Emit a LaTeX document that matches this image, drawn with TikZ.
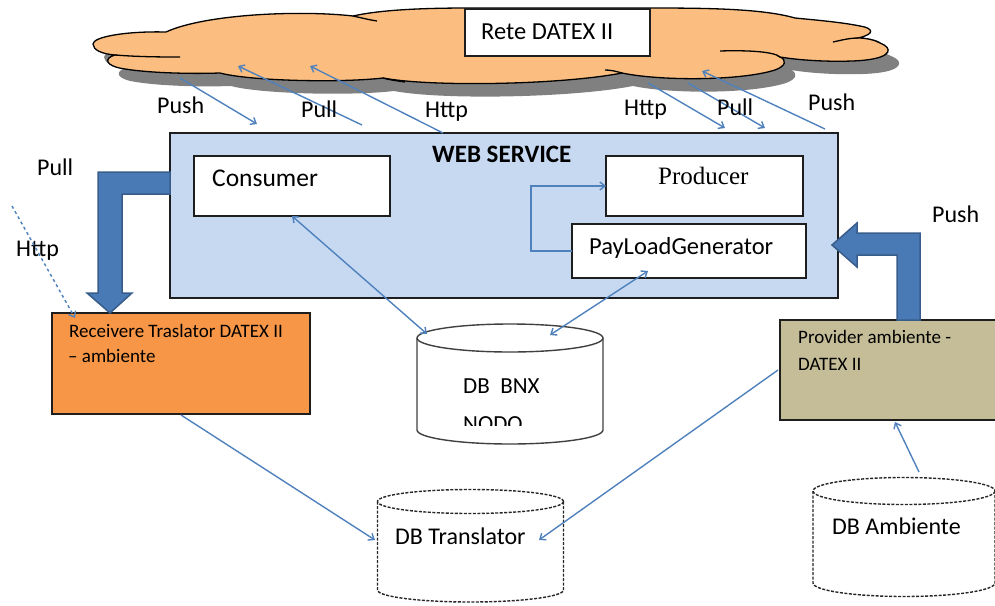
\documentclass[tikz,border=0pt]{standalone}
\usepackage{fontspec}
\setmainfont{Carlito}
\newfontfamily\prodfont{Liberation Serif}
\usetikzlibrary{arrows.meta,calc}

\definecolor{cloudfill}{RGB}{251,190,128}
\definecolor{cloudshadow}{RGB}{128,128,128}
\definecolor{wsfill}{RGB}{198,217,241}
\definecolor{recvfill}{RGB}{247,150,70}
\definecolor{provfill}{RGB}{196,189,151}
\definecolor{linkblue}{RGB}{79,129,189}
\definecolor{blockblue}{RGB}{74,122,182}
\definecolor{blockedge}{RGB}{56,93,138}
\definecolor{edge}{RGB}{30,30,30}

% cylinder: centre x, half width, y of top ellipse, y of bottom arc, ellipse half height, style
\newcommand\dbcylinder[6]{%
  \path[#6, fill=white] ({#1-#2},#3) -- ({#1-#2},#4)
    .. controls ({#1-#2},{#4+0.5523*#5}) and ({#1-0.5523*#2},{#4+#5}) .. (#1,{#4+#5})
    .. controls ({#1+0.5523*#2},{#4+#5}) and ({#1+#2},{#4+0.5523*#5}) .. ({#1+#2},#4)
    -- ({#1+#2},#3);
  \path[#6, fill=white] (#1,#3) ellipse[x radius=#2, y radius=#5];
}

\begin{document}
\begin{tikzpicture}[x=1pt,y=-1pt,
  box/.style={draw=edge, line width=1.5pt, inner sep=0pt, outer sep=0pt},
  txt/.style={inner sep=0pt, anchor=base west, font=\fontsize{24}{28}\selectfont},
  small/.style={inner sep=0pt, anchor=base west, font=\fontsize{19}{22}\selectfont},
  link/.style={draw=linkblue, line width=1.4pt, -{Straight Barb[length=5pt,width=8pt]}},
  twoway/.style={link, {Straight Barb[length=5pt,width=8pt]}-{Straight Barb[length=5pt,width=8pt]}},
  block/.style={fill=blockblue, draw=blockedge, line width=1.5pt, line join=miter},
  cyl/.style={draw=black!75, line width=1.4pt},
  dcyl/.style={draw=black!85, line width=1.4pt, dash pattern=on 3pt off 1.5pt}
]
\useasboundingbox (0,0) rectangle (995,605);
\clip (0,0) rectangle (995,605);

% ---------- network cloud ----------
\def\cloudpath{(353,16) .. controls (300,10) and (205,14) .. (166,32)
  .. controls (125,31) and (93,37) .. (93,44)
  .. controls (93,50) and (102,54) .. (115,55)
  .. controls (104,58) and (104,66) .. (125,69)
  .. controls (150,73) and (190,74) .. (220,73)
  .. controls (250,81) and (340,83) .. (383,78)
  .. controls (430,87) and (560,85) .. (622,73)
  .. controls (660,81) and (740,81) .. (775,70)
  .. controls (786,66) and (787,60) .. (780,57)
  .. controls (810,62) and (850,62) .. (866,60)
  .. controls (892,57) and (893,48) .. (880,43)
  .. controls (875,40) and (866,38) .. (858,38)
  .. controls (876,34) and (873,28) .. (860,26)
  .. controls (840,22) and (815,20) .. (795,18)
  .. controls (760,8) and (700,8) .. (640,8)
  -- (470,8) .. controls (420,8) and (380,10) .. (353,16) -- cycle}
\fill[cloudshadow, shift={(11,13)}] \cloudpath;
\filldraw[fill=cloudfill, draw=black, line width=1.3pt] \cloudpath;
\begin{scope}[draw=black, line width=1.3pt]
  \draw (353,16) .. controls (362,18) and (370,20) .. (377,21);
  \draw (115,55) .. controls (140,57) and (165,57) .. (180,57);
  \draw (383,78) .. controls (390,80) and (398,81) .. (405,82);
  \draw (622,73) .. controls (615,71) and (610,70) .. (605,70);
  \draw (720,51) .. controls (750,50) and (775,52) .. (780,57);
  \draw (833,42) .. controls (842,40) and (850,38) .. (858,38);
\end{scope}
\node[box, fill=white, minimum width=185pt, minimum height=47pt] (rete) at (557.5,32.5) {};
\node[txt, font=\fontsize{24.5}{28}\selectfont] (retet) at (481,39) {Rete DATEX II};

% points where the links meet the cloud
\coordinate (cPushL) at (180,78);
\coordinate (cPullL) at (238,66);
\coordinate (cHttpL) at (310,66);
\coordinate (cHttpR) at (648,83);
\coordinate (cPullR) at (688,83);
\coordinate (cPushR) at (702,71);
% points just above the web service
\coordinate (wPushL) at (257,124);
\coordinate (wPullL) at (362,125);
\coordinate (wHttpL) at (443,133);
\coordinate (wHttpR) at (725,128);
\coordinate (wPullR) at (765,128);
\coordinate (wPushR) at (825,129);

% ---------- web service ----------
\node[box, fill=wsfill, minimum width=668pt, minimum height=165pt] (ws) at (504,215.5) {};
\node[txt, font=\fontsize{25}{29}\selectfont\bfseries] (wst) at (432,162) {WEB SERVICE};
\node[box, fill=white, minimum width=196pt, minimum height=60pt] (cons) at (292,186) {};
\node[txt, font=\fontsize{25.5}{29}\selectfont] (const) at (212,186) {Consumer};
\node[box, fill=white, minimum width=197pt, minimum height=60pt] (prod) at (704.5,186) {};
\node[txt, font=\fontsize{25}{29}\selectfont\prodfont] (prodt) at (658,184) {Producer};
\node[box, fill=white, minimum width=234pt, minimum height=54pt] (pay) at (689,251) {};
\node[txt, font=\fontsize{24.5}{29}\selectfont] (payt) at (589,254) {PayLoadGenerator};
\draw[link] (pay.west) -- ++(-41,0) |- (prod.west);

% ---------- side blocks ----------
\node[box, fill=recvfill, minimum width=258pt, minimum height=101pt] (recv) at (181,363.5) {};
\node[small] (recvt1) at (69,337) {Receivere Traslator DATEX II};
\node[small] (recvt2) at (68,362) {– ambiente};
\node[box, fill=provfill, minimum width=230pt, minimum height=100pt] (prov) at (895,370) {};
\node[small] (provt1) at (798,343) {Provider ambiente -};
\node[small] (provt2) at (798,370) {DATEX II};

% ---------- databases ----------
\dbcylinder{510}{93}{338}{430}{14}{cyl}
\node[txt, font=\fontsize{23}{27}\selectfont] (bnxt) at (463,393) {DB\ \ BNX};
\begin{scope}
  \clip (417,360) rectangle (603,425);
  \node[txt, font=\fontsize{23}{27}\selectfont] (bnxt2) at (463,431) {NODO};
\end{scope}
\coordinate (bnxL) at (427,334);
\coordinate (bnxR) at (550,335);

\dbcylinder{470.5}{93}{501.5}{590}{12}{dcyl}
\node[txt, font=\fontsize{24}{28}\selectfont] (dbt) at (395,544) {DB Translator};
\coordinate (dbtL) at (375,540);
\coordinate (dbtR) at (539,540);

\dbcylinder{904}{91}{491}{583}{13.5}{dcyl}
\node[txt, font=\fontsize{24}{28}\selectfont] (dba) at (832,534) {DB Ambiente};
\coordinate (dbaTop) at (919,472);

% ---------- block arrows ----------
\draw[block] (ws.west |- 0,172) -- (98,172) -- (98,293) -- (87,293) -- (110,313)
  -- (132,293) -- (122,293) -- (122,194) -- (ws.west |- 0,194) -- cycle;
\draw[block] (897,320) -- (897,255) -- (857,255) -- (857,267) -- (832,245)
  -- (857,223) -- (857,233) -- (920,233) -- (920,320) -- cycle;

% ---------- links ----------
\draw[link] (cPushL) -- (wPushL);
\draw[link] (wPullL) -- (cPullL);
\draw[link] (wHttpL) -- (cHttpL);
\draw[link] (cHttpR) -- (wHttpR);
\draw[link] (cPullR) -- (wPullR);
\draw[link] (wPushR) -- (cPushR);

\node[txt] (lPushL) at (157,113) {Push};
\node[txt] (lPullL) at (301,117) {Pull};
\node[txt] (lHttpL) at (425,117) {Http};
\node[txt] (lHttpR) at (624,115) {Http};
\node[txt] (lPullR) at (717,115) {Pull};
\node[txt] (lPushR) at (808,110) {Push};

\node[txt] (lPullS) at (37,175) {Pull};
\node[txt] (lHttpS) at (16,256) {Http};
\node[txt] (lPushS) at (932,222) {Push};
\coordinate (httpIn) at (12,206);
\draw[link, dashed] (httpIn) -- ($(recv.north west)+(23,5)$);

\draw[twoway] (cons.south) -- (bnxL);
\draw[twoway] ($(pay.south)+(-41,-7)$) -- (bnxR);
\draw[link] ($(recv.south)+(0,1)$) -- (dbtL);
\draw[link] ($(prov.west)+(-2,0)$) -- (dbtR);
\draw[link] (dbaTop) -- ($(prov.south west)+(115,2)$);
\end{tikzpicture}
\end{document}
